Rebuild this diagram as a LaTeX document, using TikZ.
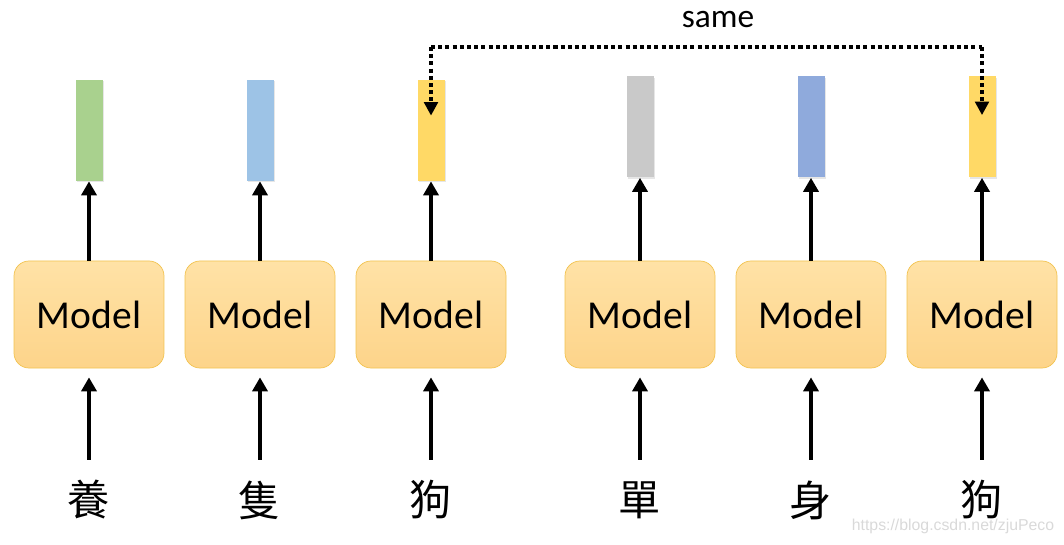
\documentclass[tikz,border=0pt]{standalone}
\usepackage{fontspec}
\setmainfont{Carlito}
\newfontfamily\cjk{Noto Sans CJK TC}
\newfontfamily\wmfont{Liberation Sans}
\usepackage{tikz}
\usetikzlibrary{arrows.meta,positioning,calc,shadows}
\definecolor{boxtop}{RGB}{255,226,166}
\definecolor{boxbot}{RGB}{253,212,138}
\definecolor{boxline}{RGB}{242,195,80}
\definecolor{vgreen}{RGB}{169,209,142}
\definecolor{vlblue}{RGB}{157,195,230}
\definecolor{vyellow}{RGB}{255,217,102}
\definecolor{vgray}{RGB}{201,201,201}
\definecolor{vblue}{RGB}{143,170,220}
\tikzset{
  modelbox/.style={rectangle, rounded corners=0.3cm, draw=boxline, thin,
                   top color=boxtop, bottom color=boxbot,
                   minimum width=3cm, minimum height=2.14cm,
                   font=\fontsize{22.5}{24}\selectfont},
  vec/.style={rectangle, fill=#1, minimum width=0.54cm, minimum height=2.02cm,
              inner sep=0pt, drop shadow={opacity=0.2, shadow xshift=0.02cm,
              shadow yshift=-0.03cm}},
  word/.style={font=\cjk\fontsize{24}{26}\selectfont, inner sep=0pt,
               minimum height=1.6cm},
}
\begin{document}
\begin{tikzpicture}[
  arr/.style={-{Triangle[width=0.3cm,length=0.28cm]}, line width=2.6pt},
  samearr/.style={-{Triangle[width=0.27cm,length=0.27cm]}, line width=2.6pt,
                  dash pattern=on 2.3pt off 1.8pt},
]
  \useasboundingbox (0,0) rectangle (21.28,10.88);
  % models, vectors and words
  \foreach \i/\x/\c/\w in {1/1.78/vgreen/養, 2/5.2/vlblue/隻, 3/8.62/vyellow/狗,
                           4/12.8/vgray/單, 5/16.22/vblue/身, 6/19.64/vyellow/狗} {
    \node[modelbox] (m\i) at (\x,4.59) {Model};
    \node[word] (w\i) at (\x,0.88) {\w};
  }
  \foreach \i/\x/\c in {1/1.78/vgreen, 2/5.2/vlblue, 3/8.62/vyellow}
    \node[vec=\c] (v\i) at (\x,8.27) {};
  \foreach \i/\x/\c in {4/12.8/vgray, 5/16.22/vblue, 6/19.64/vyellow}
    \node[vec=\c] (v\i) at (\x,8.34) {};
  \foreach \i in {1,...,6} {
    \draw[arr] (m\i) -- (v\i);
    \draw[arr, shorten >=0.18cm] (w\i) -- (m\i);
  }
  % same
  \coordinate (top) at (0,9.94);
  \coordinate (t3) at ([yshift=-0.72cm]v3.north);
  \coordinate (t6) at ([yshift=-0.78cm]v6.north);
  \draw[samearr] (v3 |- top) -- (t3);
  \draw[samearr] (v6 |- top) -- (t6);
  \draw[line width=2.6pt, dash pattern=on 2.3pt off 1.8pt] (v3 |- top) -- (v6 |- top);
  \node[font=\fontsize{19}{21}\selectfont] (same) at (14.36,10.48) {same};
  \node[font=\wmfont\fontsize{9}{10}\selectfont, text=gray!30] (wm) at (19.06,0.36)
    {https://blog.csdn.net/zjuPeco};
\end{tikzpicture}
\end{document}
